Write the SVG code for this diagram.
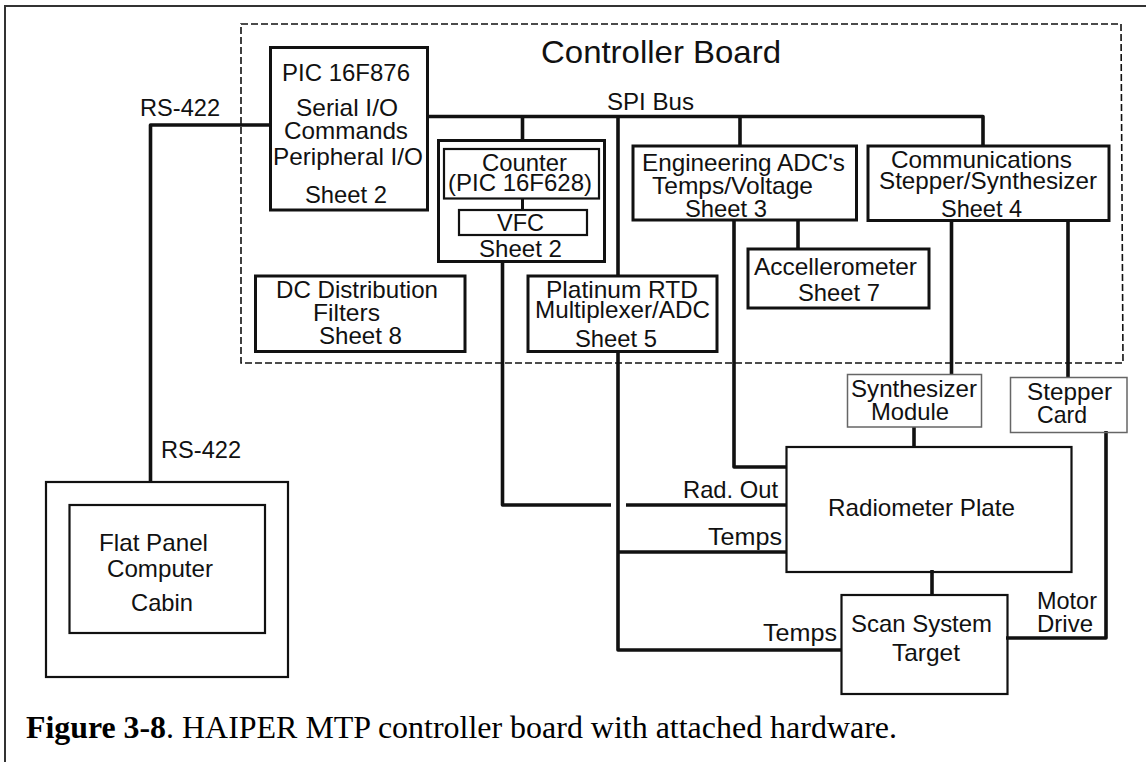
<svg xmlns="http://www.w3.org/2000/svg" width="1146" height="762" viewBox="0 0 1146 762">
<style>
text{font-family:"Liberation Sans",Arial,sans-serif;font-size:24px;fill:#111}
.cap{font-family:"Liberation Serif","Times New Roman",serif;font-size:31px;fill:#000}
.b{font-weight:bold}
rect{fill:none;stroke:#111}
.w3{stroke-width:3}
.w2{stroke-width:2.2}
.gray{stroke:#666;stroke-width:1.5}
.wire{fill:none;stroke:#111;stroke-width:3.6;stroke-linejoin:round}
</style>
<rect x="0" y="0" width="1146" height="762" style="fill:#fff;stroke:none"/>
<path d="M5 762V6H1146" fill="none" stroke="#333" stroke-width="2"/>
<path id="controller-board" d="M241 24H1121L1123 363H241Z" fill="none" stroke="#111" stroke-width="1.6" stroke-dasharray="7 3"/>
<text x="541" y="63" textLength="240" lengthAdjust="spacingAndGlyphs" style="font-size:32px">Controller Board</text>
<g id="connectors">
<path class="wire" d="M270 125H150.500V482"/>
<path class="wire" d="M427 116.500H983V146"/>
<path class="wire" d="M522.500 116.500V140"/>
<path class="wire" d="M618 116.500V276"/>
<path class="wire" d="M740 116.500V146"/>
<path class="wire" d="M522.500 198V210" style="stroke-width:3"/>
<path class="wire" d="M798 220V249"/>
<path class="wire" d="M502.500 262V505H611"/>
<path class="wire" d="M626 505H787"/>
<path class="wire" d="M618 352V650H841"/>
<path class="wire" d="M618 552H787"/>
<path class="wire" d="M734 220V467H787"/>
<path class="wire" d="M951.500 220V374"/>
<path class="wire" d="M1068 220V377"/>
<path class="wire" d="M914 427V447"/>
<path class="wire" d="M932 570V595"/>
<path class="wire" d="M1106 431V638H1006"/>
</g>
<g id="pic16f876">
<rect class="w3" x="270.500" y="47.500" width="157" height="162.500"/>
<text x="282" y="81" textLength="128" lengthAdjust="spacingAndGlyphs">PIC 16F876</text>
<text x="296" y="116" textLength="102" lengthAdjust="spacingAndGlyphs">Serial I/O</text>
<text x="284" y="139" textLength="124" lengthAdjust="spacingAndGlyphs">Commands</text>
<text x="273" y="165" textLength="150" lengthAdjust="spacingAndGlyphs">Peripheral I/O</text>
<text x="305" y="203" textLength="82" lengthAdjust="spacingAndGlyphs">Sheet 2</text>
</g>
<g id="counter-assembly">
<rect class="w3" x="438.500" y="140.500" width="166" height="121"/>
<text x="479" y="257" textLength="83" lengthAdjust="spacingAndGlyphs">Sheet 2</text>
</g>
<g id="counter">
<rect class="w2" x="444" y="149" width="155" height="49.500"/>
<text x="482" y="171" textLength="85" lengthAdjust="spacingAndGlyphs">Counter</text>
<text x="448" y="191" textLength="144" lengthAdjust="spacingAndGlyphs">(PIC 16F628)</text>
</g>
<g id="vfc">
<rect class="w2" x="459" y="210" width="128" height="25"/>
<text x="497" y="231" textLength="47" lengthAdjust="spacingAndGlyphs">VFC</text>
</g>
<g id="engineering-adcs">
<rect class="w3" x="633" y="146" width="223.500" height="74"/>
<text x="642" y="171" textLength="203" lengthAdjust="spacingAndGlyphs">Engineering ADC's</text>
<text x="652" y="194" textLength="161" lengthAdjust="spacingAndGlyphs">Temps/Voltage</text>
<text x="685" y="217" textLength="82" lengthAdjust="spacingAndGlyphs">Sheet 3</text>
</g>
<g id="communications">
<rect class="w3" x="868" y="146" width="241" height="74.500"/>
<text x="891" y="168" textLength="181" lengthAdjust="spacingAndGlyphs">Communications</text>
<text x="879" y="189" textLength="218" lengthAdjust="spacingAndGlyphs">Stepper/Synthesizer</text>
<text x="941" y="217" textLength="81" lengthAdjust="spacingAndGlyphs">Sheet 4</text>
</g>
<g id="accellerometer">
<rect class="w3" x="748" y="249" width="181" height="59"/>
<text x="754" y="275" textLength="163" lengthAdjust="spacingAndGlyphs">Accellerometer</text>
<text x="798" y="301" textLength="82" lengthAdjust="spacingAndGlyphs">Sheet 7</text>
</g>
<g id="dc-distribution">
<rect class="w3" x="255.500" y="276" width="209.500" height="75.500"/>
<text x="276" y="298" textLength="162" lengthAdjust="spacingAndGlyphs">DC Distribution</text>
<text x="313" y="321" textLength="67" lengthAdjust="spacingAndGlyphs">Filters</text>
<text x="319" y="344" textLength="83" lengthAdjust="spacingAndGlyphs">Sheet 8</text>
</g>
<g id="platinum-rtd">
<rect class="w3" x="528" y="276" width="189" height="75.500"/>
<text x="546" y="298" textLength="152" lengthAdjust="spacingAndGlyphs">Platinum RTD</text>
<text x="535" y="318" textLength="175" lengthAdjust="spacingAndGlyphs">Multiplexer/ADC</text>
<text x="575" y="347" textLength="82" lengthAdjust="spacingAndGlyphs">Sheet 5</text>
</g>
<g id="synthesizer-module">
<rect class="gray" x="847.500" y="374.500" width="134" height="52.500"/>
<text x="851" y="397" textLength="126" lengthAdjust="spacingAndGlyphs">Synthesizer</text>
<text x="871" y="420" textLength="78" lengthAdjust="spacingAndGlyphs">Module</text>
</g>
<g id="stepper-card">
<rect class="gray" x="1010.500" y="377.500" width="116.500" height="55"/>
<text x="1027" y="400" textLength="85" lengthAdjust="spacingAndGlyphs">Stepper</text>
<text x="1037" y="423" textLength="50" lengthAdjust="spacingAndGlyphs">Card</text>
</g>
<g id="radiometer-plate">
<rect class="w2" x="786.500" y="447" width="285" height="125"/>
<text x="828" y="516" textLength="187" lengthAdjust="spacingAndGlyphs">Radiometer Plate</text>
</g>
<g id="scan-system">
<rect class="w2" x="841.500" y="595" width="166" height="99"/>
<text x="851" y="632" textLength="141" lengthAdjust="spacingAndGlyphs">Scan System</text>
<text x="892" y="661" textLength="68" lengthAdjust="spacingAndGlyphs">Target</text>
</g>
<g id="cabin">
<rect class="w2" x="46" y="482" width="242" height="195"/>
</g>
<g id="flat-panel">
<rect class="w2" x="69.500" y="505" width="195.500" height="128"/>
<text x="99" y="551" textLength="109" lengthAdjust="spacingAndGlyphs">Flat Panel</text>
<text x="107" y="577" textLength="106" lengthAdjust="spacingAndGlyphs">Computer</text>
<text x="131" y="611" textLength="62" lengthAdjust="spacingAndGlyphs">Cabin</text>
</g>
<g id="labels">
<text x="140" y="116" textLength="80" lengthAdjust="spacingAndGlyphs">RS-422</text>
<text x="161" y="458" textLength="80" lengthAdjust="spacingAndGlyphs">RS-422</text>
<text x="607" y="110" textLength="87" lengthAdjust="spacingAndGlyphs">SPI Bus</text>
<text x="683" y="498" textLength="95" lengthAdjust="spacingAndGlyphs">Rad. Out</text>
<text x="708" y="545" textLength="74" lengthAdjust="spacingAndGlyphs">Temps</text>
<text x="763" y="641" textLength="74" lengthAdjust="spacingAndGlyphs">Temps</text>
<text x="1037" y="609" textLength="60" lengthAdjust="spacingAndGlyphs">Motor</text>
<text x="1037" y="632" textLength="56" lengthAdjust="spacingAndGlyphs">Drive</text>
</g>
<text class="cap b" x="26" y="738" textLength="140" lengthAdjust="spacingAndGlyphs">Figure 3-8</text>
<text class="cap" x="166" y="738" textLength="731" lengthAdjust="spacingAndGlyphs">. HAIPER MTP controller board with attached hardware.</text>
</svg>
